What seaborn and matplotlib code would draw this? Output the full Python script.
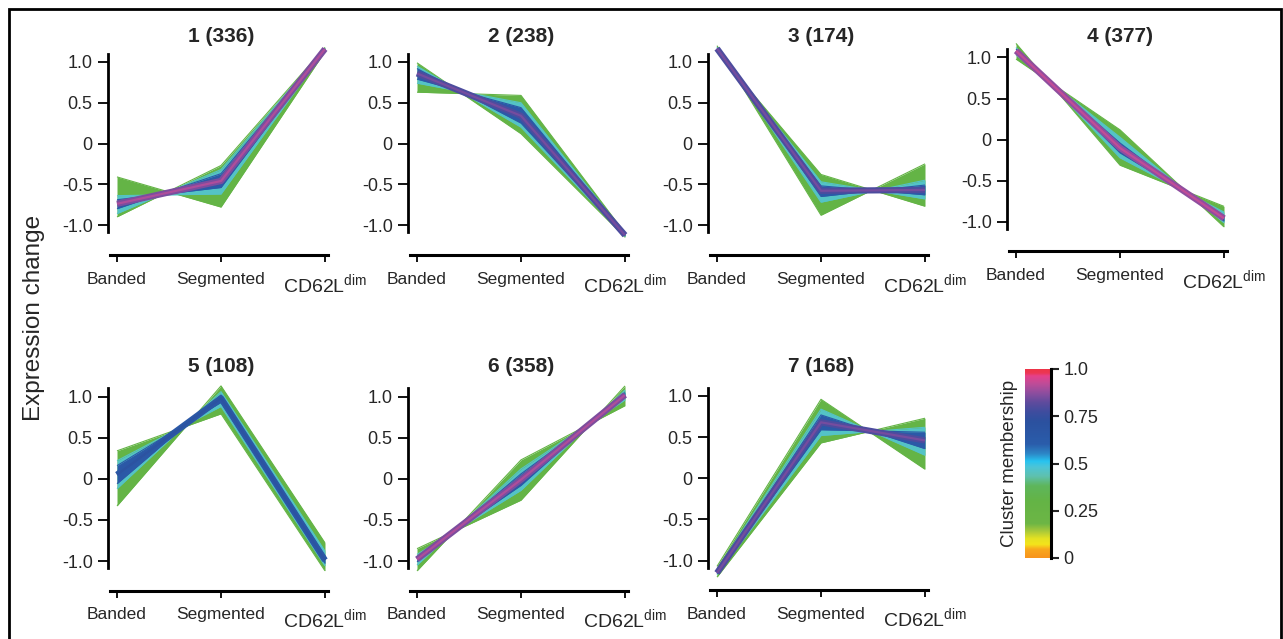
import numpy as np
import pandas as pd
import matplotlib
matplotlib.use("Agg")
import matplotlib.pyplot as plt
import seaborn as sns
from matplotlib.colors import LinearSegmentedColormap
from matplotlib.patches import Rectangle

# ---------------- data ----------------
stages = ["Banded", "Segmented", "CD62L$^{\\mathregular{dim}}$"]
cluster_sizes = [336, 238, 174, 377, 108, 358, 168]
band_levels = [0.3, 0.46, 0.64]          # membership of the outer / middle / inner band
center_membership = [0.9, 0.84, 0.84, 0.92, 0.7, 0.9, 0.84]
y_ticks = [-1.0, -0.5, 0.0, 0.5, 1.0]
y_tick_labels = ["-1.0", "-0.5", "0", "0.5", "1.0"]
cbar_ticks = [0, 0.25, 0.5, 0.75, 1.0]
cbar_tick_labels = ["0", "0.25", "0.5", "0.75", "1.0"]

# edge A / edge B of each band (outer, middle, inner), values at Banded, Segmented, CD62Ldim
c1_edge_a = [[-0.41, -0.78, 1.13], [-0.64, -0.62, 1.15], [-0.69, -0.54, 1.155]]
c1_edge_b = [[-0.90, -0.27, 1.18], [-0.86, -0.32, 1.17], [-0.80, -0.37, 1.165]]
c1_center = [-0.74, -0.46, 1.16]

c2_edge_a = [[0.99, 0.12, -1.15], [0.95, 0.20, -1.14], [0.92, 0.25, -1.135]]
c2_edge_b = [[0.63, 0.59, -1.10], [0.74, 0.50, -1.11], [0.79, 0.44, -1.115]]
c2_center = [0.86, 0.34, -1.125]

c3_edge_a = [[1.13, -0.38, -0.77], [1.15, -0.47, -0.68], [1.155, -0.52, -0.63]]
c3_edge_b = [[1.20, -0.88, -0.25], [1.18, -0.72, -0.45], [1.175, -0.65, -0.51]]
c3_center = [1.165, -0.58, -0.57]

c4_edge_a = [[1.17, -0.31, -0.81], [1.12, -0.22, -0.88], [1.10, -0.16, -0.92]]
c4_edge_b = [[0.98, 0.12, -1.06], [1.03, 0.03, -1.01], [1.06, -0.04, -0.99]]
c4_center = [1.08, -0.10, -0.955]

c5_edge_a = [[0.34, 0.79, -1.12], [0.22, 0.88, -1.06], [0.16, 0.93, -1.03]]
c5_edge_b = [[-0.33, 1.13, -0.78], [-0.12, 1.06, -0.88], [-0.06, 1.02, -0.94]]
c5_center = [0.05, 0.98, -0.99]

c6_edge_a = [[-0.85, -0.26, 1.13], [-0.92, -0.14, 1.08], [-0.95, -0.08, 1.05]]
c6_edge_b = [[-1.12, 0.23, 0.89], [-1.05, 0.12, 0.96], [-1.01, 0.06, 0.99]]
c6_center = [-0.98, -0.01, 1.02]

c7_edge_a = [[-1.07, 0.96, 0.11], [-1.11, 0.84, 0.28], [-1.13, 0.77, 0.36]]
c7_edge_b = [[-1.20, 0.43, 0.73], [-1.17, 0.52, 0.62], [-1.16, 0.59, 0.56]]
c7_center = [-1.15, 0.68, 0.46]

edges_a = [c1_edge_a, c2_edge_a, c3_edge_a, c4_edge_a, c5_edge_a, c6_edge_a, c7_edge_a]
edges_b = [c1_edge_b, c2_edge_b, c3_edge_b, c4_edge_b, c5_edge_b, c6_edge_b, c7_edge_b]
centers = [c1_center, c2_center, c3_center, c4_center, c5_center, c6_center, c7_center]

# ---------------- tables ----------------
band_rows, center_rows = [], []
for k in range(len(cluster_sizes)):
    for li, lev in enumerate(band_levels):
        for ename, arr in (("a", edges_a[k][li]), ("b", edges_b[k][li])):
            for s, v in enumerate(arr):
                band_rows.append(dict(cluster=k, level=lev, edge=ename, stage=s, value=v))
    for s, v in enumerate(centers[k]):
        center_rows.append(dict(cluster=k, stage=s, value=v))
bands = pd.DataFrame(band_rows)
center_df = pd.DataFrame(center_rows)

# ---------------- style ----------------
sns.set_style("white")
plt.rcParams['font.family'] = ['Liberation Sans', 'DejaVu Sans']
plt.rcParams['mathtext.fontset'] = 'custom'
plt.rcParams['mathtext.rm'] = 'Liberation Sans'
plt.rcParams['mathtext.it'] = 'Liberation Sans:italic'
plt.rcParams['mathtext.bf'] = 'Liberation Sans:bold'

cmap = LinearSegmentedColormap.from_list("membership", [
    (0.00, "#F7941D"), (0.045, "#F9A81E"), (0.07, "#F4E41B"), (0.10, "#E6E222"),
    (0.14, "#A9C93A"), (0.18, "#6DB645"), (0.30, "#64B446"), (0.38, "#5EB65C"),
    (0.43, "#5FC1AE"), (0.48, "#4CC5D8"), (0.51, "#27C3F0"), (0.55, "#2D86C6"),
    (0.60, "#2A5DAB"), (0.72, "#2C519F"), (0.77, "#3F4D9F"), (0.82, "#5F4B9D"),
    (0.87, "#8E4E9F"), (0.92, "#C04C98"), (0.96, "#E5418B"), (0.975, "#EC3755"),
    (1.00, "#EE3444")])

W, H = 1283, 639
fig = plt.figure(figsize=(W / 100, H / 100), dpi=100)

xunit = 104.0
col_px = [117, 417, 717, 1016]
# (column, zero-pixel, pixels per unit, title y pixel)
layout = [(0, 143.5, 81.5, 36), (1, 143.5, 81.5, 36), (2, 143.5, 81.5, 36),
          (3, 139.7, 82.3, 36), (0, 478.8, 82.2, 366), (1, 478.8, 82.2, 366),
          (2, 478.3, 82.3, 366)]

x0, x1, y0, y1 = -0.2, 2.15, -1.55, 1.35
for k, (col, zpx, unit, ty) in enumerate(layout):
    xb = col_px[col]
    left = xb + xunit * x0
    width = xunit * (x1 - x0)
    top = zpx - unit * y1
    bottom = zpx - unit * y0
    ax = fig.add_axes([left / W, 1 - bottom / H, width / W, (bottom - top) / H])
    ax.set_xlim(x0, x1)
    ax.set_ylim(y0, y1)

    sub = bands[bands.cluster == k]
    for lev in band_levels:
        a = sub[(sub.level == lev) & (sub.edge == "a")].sort_values("stage")
        b = sub[(sub.level == lev) & (sub.edge == "b")].sort_values("stage")
        ax.fill_between(a.stage.values, a.value.values, b.value.values,
                        color=cmap(lev), linewidth=0, zorder=1)
    sns.lineplot(data=sub, x="stage", y="value", hue="level", units="edge",
                 estimator=None, palette={lev: cmap(lev) for lev in band_levels},
                 linewidth=0.8, legend=False, ax=ax, zorder=2,
                 solid_capstyle="butt")
    cdat = center_df[center_df.cluster == k]
    cm = center_membership[k]
    sns.lineplot(data=cdat, x="stage", y="value", color=cmap(cm - 0.05),
                 linewidth=4.5, ax=ax, zorder=3, solid_capstyle="butt")
    sns.lineplot(data=cdat, x="stage", y="value", color=cmap(cm),
                 linewidth=1.6, ax=ax, zorder=4, solid_capstyle="butt")

    # axes styling
    for s in ("top", "right"):
        ax.spines[s].set_visible(False)
    ax.spines["left"].set_position(("data", -0.087))
    ax.spines["left"].set_bounds(-1.09, 1.1)
    ax.spines["left"].set_linewidth(2.0)
    ax.spines["bottom"].set_position(("data", -111.7 / unit))
    ax.spines["bottom"].set_bounds(-0.07, 2.03)
    ax.spines["bottom"].set_linewidth(2.2)
    for s in ("left", "bottom"):
        ax.spines[s].set_color("black")
    ax.set_yticks(y_ticks)
    ax.set_yticklabels(y_tick_labels)
    ax.set_xticks(range(len(stages)))
    ax.set_xticklabels(stages)
    ax.tick_params(axis="y", direction="out", length=7, width=1.3, pad=4,
                   labelsize=13, color="black", left=True)
    ax.tick_params(axis="x", direction="out", length=5, width=1.3, pad=7,
                   labelsize=12.5, color="black", bottom=True)
    for lbl in ax.get_xticklabels():
        if "CD62L" in lbl.get_text():
            lbl.set_fontsize(14)
    ax.set_xlabel("")
    ax.set_ylabel("")
    ax.patch.set_visible(False)

    fig.text((xb + xunit) / W, 1 - ty / H, f"{k + 1} ({cluster_sizes[k]})",
             ha="center", va="center", fontsize=15, fontweight="bold")

# y label
fig.text(34 / W, 1 - 317.5 / H, "Expression change", rotation=90,
         ha="center", va="center", fontsize=17.5)

# colour bar
cax = fig.add_axes([1025 / W, 1 - 558 / H, 26 / W, 189 / H])
grad = np.linspace(0, 1, 512).reshape(-1, 1)
cax.imshow(grad, aspect="auto", cmap=cmap, origin="lower", extent=[0, 1, 0, 1])
cax.set_xlim(0, 1)
cax.set_ylim(0, 1)
cax.set_xticks([])
cax.yaxis.tick_right()
cax.set_yticks(cbar_ticks)
cax.set_yticklabels(cbar_tick_labels)
cax.tick_params(axis="y", direction="out", length=6, width=1.5, pad=3,
                labelsize=13, right=True, left=False)
for s in ("left", "top", "bottom"):
    cax.spines[s].set_visible(False)
cax.spines["right"].set_linewidth(2.2)
cax.spines["right"].set_color("black")
cax.yaxis.set_label_position("left")
cax.set_ylabel("Cluster membership", fontsize=13.5, labelpad=5)

# outer frame
fig.patches.append(Rectangle((8.5 / W, -0.1), (1281 - 8.5) / W, 1.1 - 8.5 / H,
                             transform=fig.transFigure, fill=False,
                             linewidth=2, edgecolor="black"))

fig.savefig("out.png", dpi=100)
